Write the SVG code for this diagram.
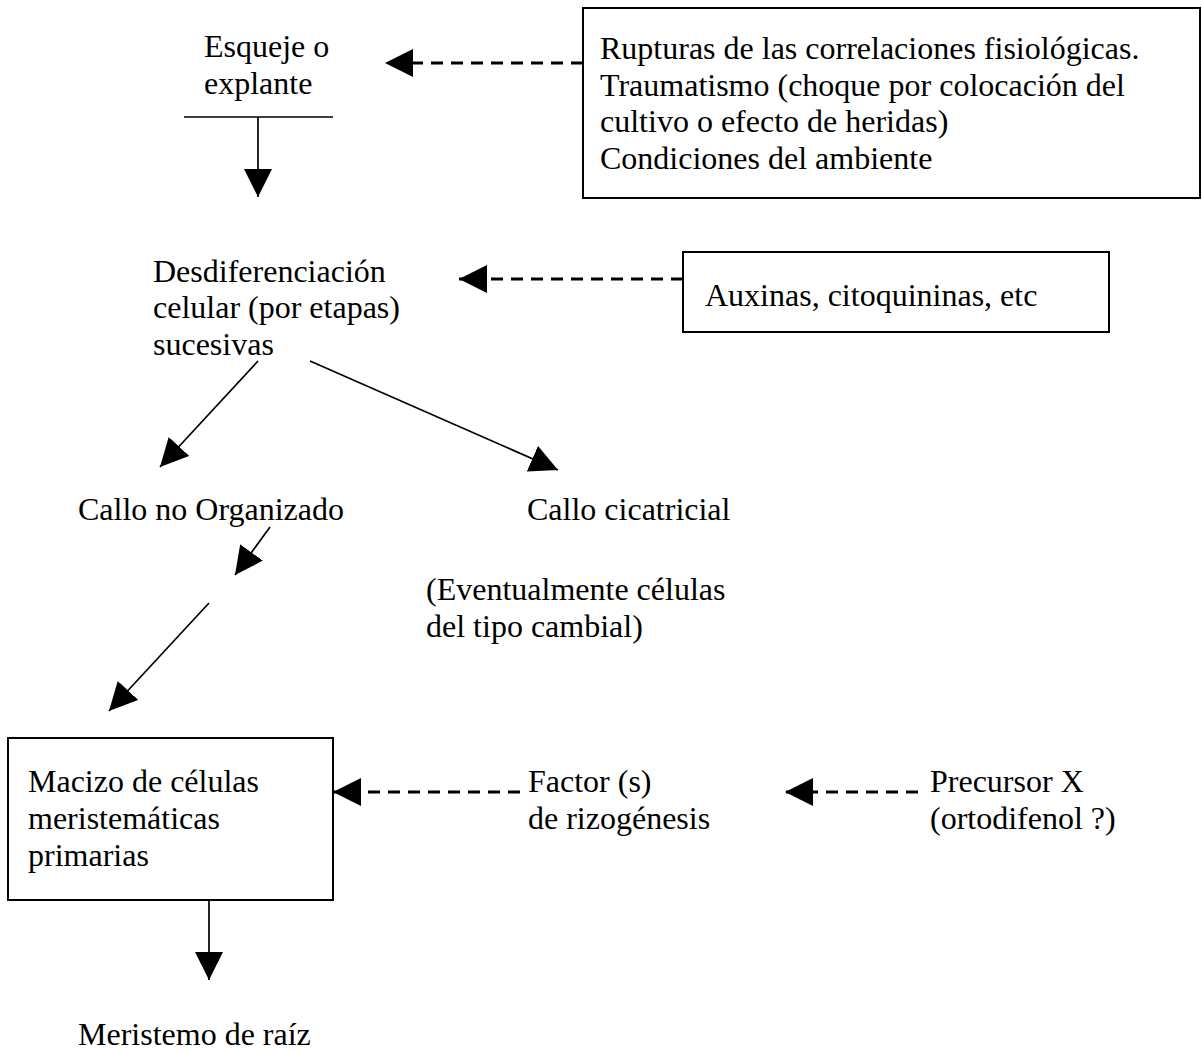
<svg xmlns="http://www.w3.org/2000/svg" width="1202" height="1053" viewBox="0 0 1202 1053">
<style>
text{font-family:"Liberation Serif","Times New Roman",serif;font-size:32px;fill:#000}
.box{fill:none;stroke:#000;stroke-width:2}
.solid{stroke:#000;stroke-width:1.7;fill:none}
.dash{stroke:#000;stroke-width:3;fill:none;stroke-dasharray:12 8}
</style>
<defs>
<marker id="ah" markerUnits="userSpaceOnUse" markerWidth="28" markerHeight="28" refX="27" refY="13.5" orient="auto" viewBox="0 0 27 27">
<path d="M0,0 L27,13.5 L0,27 Z" fill="#000"/>
</marker>
</defs>
<rect width="1202" height="1053" fill="#fff"/>
<g id="esqueje">
<text x="204" y="57">Esqueje o</text>
<text x="204" y="94">explante</text>
<line class="solid" x1="184" y1="117" x2="333" y2="117"/>
</g>
<g id="factores-iniciales">
<rect class="box" x="583" y="8" width="617" height="190"/>
<text x="600" y="59">Rupturas de las correlaciones fisiológicas.</text>
<text x="600" y="96">Traumatismo (choque por colocación del</text>
<text x="600" y="132">cultivo o efecto de heridas)</text>
<text x="600" y="169">Condiciones del ambiente</text>
</g>
<g id="desdiferenciacion">
<text x="153" y="282">Desdiferenciación</text>
<text x="153" y="318">celular (por etapas)</text>
<text x="153" y="355">sucesivas</text>
</g>
<g id="auxinas">
<rect class="box" x="683" y="252" width="426" height="80"/>
<text x="705" y="306">Auxinas, citoquininas, etc</text>
</g>
<g id="callo-no-organizado">
<text x="78" y="520">Callo no Organizado</text>
</g>
<g id="callo-cicatricial">
<text x="527" y="520">Callo cicatricial</text>
<text x="426" y="600">(Eventualmente células</text>
<text x="426" y="637">del tipo cambial)</text>
</g>
<g id="macizo">
<rect class="box" x="8" y="738" width="325" height="162"/>
<text x="28" y="792">Macizo de células</text>
<text x="28" y="829">meristemáticas</text>
<text x="28" y="866">primarias</text>
</g>
<g id="factor">
<text x="528" y="792">Factor (s)</text>
<text x="528" y="829">de rizogénesis</text>
</g>
<g id="precursor">
<text x="930" y="792">Precursor X</text>
<text x="930" y="829">(ortodifenol ?)</text>
</g>
<g id="meristemo">
<text x="78" y="1045">Meristemo de raíz</text>
</g>
<g id="connectors">
<line class="solid" x1="258" y1="117" x2="258" y2="197" marker-end="url(#ah)"/>
<line class="dash" x1="583" y1="63" x2="385" y2="63" marker-end="url(#ah)"/>
<line class="dash" x1="683" y1="279" x2="459" y2="279" marker-end="url(#ah)"/>
<line class="solid" x1="258" y1="361" x2="160" y2="467" marker-end="url(#ah)"/>
<line class="solid" x1="310" y1="361" x2="558" y2="470" marker-end="url(#ah)"/>
<line class="solid" x1="270" y1="527" x2="235" y2="575" marker-end="url(#ah)"/>
<line class="solid" x1="209" y1="603" x2="109" y2="711" marker-end="url(#ah)"/>
<line class="dash" x1="520" y1="792" x2="333" y2="792" marker-end="url(#ah)"/>
<line class="dash" x1="918" y1="792" x2="785" y2="792" marker-end="url(#ah)"/>
<line class="solid" x1="209" y1="900" x2="209" y2="980" marker-end="url(#ah)"/>
</g>
</svg>
